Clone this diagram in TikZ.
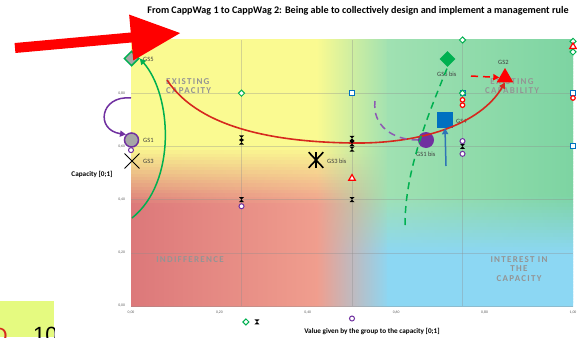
\documentclass[tikz,border=0pt]{standalone}
\usepackage{fontspec}
\setmainfont{Carlito}
\newfontfamily\bigfont{Liberation Sans}
\newfontfamily\capfont[LetterSpace=14]{Carlito}
\usetikzlibrary{shapes.geometric,shapes.misc,arrows.meta}

\definecolor{cyel}{RGB}{250,250,145}
\definecolor{cred}{RGB}{220,120,122}
\definecolor{csal}{RGB}{240,158,142}
\definecolor{cgrl}{RGB}{160,225,178}
\definecolor{cgrn}{RGB}{125,212,162}
\definecolor{cblu}{RGB}{140,215,243}
\definecolor{cgreen}{RGB}{0,176,80}
\definecolor{cpurple}{RGB}{112,48,160}
\definecolor{cblue}{RGB}{0,112,192}
\definecolor{cgrey}{RGB}{166,166,166}
\definecolor{cdred}{RGB}{214,40,30}
\definecolor{cbox}{RGB}{229,250,128}
\definecolor{cablue}{RGB}{46,117,182}

\tikzset{
  chart/.style={shift={(131,306)}, x=442pt, y=266pt},
  gridln/.style={black!45, opacity=0.35, line width=0.4pt},
  ticklbl/.style={font=\fontsize{3.8}{4}\selectfont, text=black!65, inner sep=0pt},
  gslbl/.style={font=\fontsize{6.5}{7}\selectfont, text=black!75, inner sep=0pt, anchor=west},
  zonelbl/.style={font=\capfont\bfseries\fontsize{9}{9.5}\selectfont, text=black!42, align=center, inner sep=0pt},
  axislbl/.style={font=\bfseries\fontsize{7.2}{8}\selectfont, inner sep=0pt},
  mkdia/.style={diamond, draw=cgreen, fill=white, line width=1pt, inner sep=0pt, minimum size=6.5pt},
  mksq/.style={rectangle, draw=cblue, fill=white, line width=1pt, inner sep=0pt, minimum size=5pt},
  mkcirc/.style={circle, draw=cpurple, fill=white, line width=1pt, inner sep=0pt, minimum size=5pt},
  mkred/.style={circle, draw=red, fill=white, line width=1.2pt, inner sep=0pt, minimum size=4.5pt},
  mktri/.style={regular polygon, regular polygon sides=3, draw=red, fill=white, line width=1.2pt, inner sep=0pt, minimum size=7.5pt},
  mkhour/.style={inner sep=0pt, minimum width=5pt, minimum height=5pt,
    path picture={\fill[black] (path picture bounding box.north west) -- (path picture bounding box.north east)
      -- (path picture bounding box.south west) -- (path picture bounding box.south east) -- cycle;}},
  tipa/.style={-{Triangle[length=6pt,width=6pt]}},
  dashln/.style={line width=1.5pt, dash pattern=on 7pt off 5pt},
}

\begin{document}
\begin{tikzpicture}[x=1pt,y=-1pt]
\useasboundingbox (0,0) rectangle (577,337);
\fill[white] (0,0) rectangle (577,337);

\node[font=\bfseries\fontsize{10.1}{12}\selectfont, inner sep=0pt] (title) at (358,11)
  {From CappWag 1 to CappWag 2: Being able to collectively design and implement a management rule};

% coloured zones of the chart
\begin{scope}[chart]
  \foreach \i in {0,...,79}{
    \pgfmathsetmacro{\vb}{\i/80}
    \pgfmathsetmacro{\vt}{min(1,(\i+1.4)/80)}
    \pgfmathsetmacro{\vm}{(\i+0.5)/80}
    \pgfmathsetmacro{\pl}{min(100,max(0,(\vm-0.38)/0.22*100))}
    \pgfmathsetmacro{\pr}{min(100,max(0,(\vm-0.2)/0.22*100))}
    \colorlet{sA}{cyel!\pl!cred}
    \colorlet{sB}{cyel!\pl!csal}
    \colorlet{sC}{cgrl!\pr!cblu}
    \colorlet{sD}{cgrn!\pr!cblu}
    \shade[left color=sA, right color=sB] (0,\vb) rectangle (0.425,\vt);
    \shade[left color=sB, right color=sC] (0.42,\vb) rectangle (0.585,\vt);
    \shade[left color=sC, right color=sD] (0.58,\vb) rectangle (1,\vt);
  }
  \foreach \v in {0.25,0.5,0.75} \draw[gridln] (\v,0) -- (\v,1);
  \foreach \v in {0.2,0.4,0.6,0.8} \draw[gridln] (0,\v) -- (1,\v);
  \draw[gridln] (0,0) -- (1,0);
  \foreach \v/\t [count=\n] in {0/{0,00},0.2/{0,20},0.4/{0,40},0.6/{0,60},0.8/{0,80},1/{1,00}}
    \node[ticklbl] (xt\n) at (\v,-0.025) {\t};
  \foreach \v/\t [count=\n] in {0/{0,00},0.2/{0,20},0.4/{0,40},0.6/{0,60},0.8/{0,80}}
    \node[ticklbl] (yt\n) at (-0.021,\v) {\t};
\end{scope}

% zone names
\node[zonelbl, align=left, anchor=west] (zcap) at (166,86) {EXISTING\\CAPACITY};
\node[zonelbl] (zcab) at (512,86) {EXISTING\\CAPABILITY};
\node[zonelbl] (zind) at (190,260) {INDIFFERENCE};
\node[zonelbl] (zint) at (519,269) {INTEREST IN\\THE\\CAPACITY};

% axis titles
\node[axislbl] (ytitle) at (92,174) {Capacity [0;1]};
\node[axislbl] (xtitle) at (372,331) {Value given by the group to the capacity [0;1]};

% group states
\node[diamond, draw=cgreen, fill=cgrey, line width=1.5pt, inner sep=0pt, minimum size=15pt] (GS5) at (131.5,58.5) {};
\node[gslbl] (GS5t) at (143,59) {GS5};
\node[circle, draw=cpurple, fill=cgrey, line width=1.5pt, inner sep=0pt, minimum size=14pt] (GS1) at (131.5,140) {};
\node[gslbl] (GS1t) at (143,140) {GS1};
\node[cross out, draw=black, line width=0.9pt, inner sep=0pt, minimum size=14pt] (GS3) at (132,161) {};
\node[gslbl] (GS3t) at (143,161) {GS3};
\node[cross out, draw=black, line width=1.6pt, inner sep=0pt, minimum width=13pt, minimum height=14pt] (GS3b) at (316,160) {};
\draw[line width=1.6pt] (GS3b.north) -- (GS3b.south);
\node[gslbl] (GS3bt) at (327,161) {GS3 bis};
\node[circle, fill=cpurple, inner sep=0pt, minimum size=16pt] (GS1b) at (426,140) {};
\node[gslbl] (GS1bt) at (416,154) {GS1 bis};
\node[rectangle, fill=cblue, inner sep=0pt, minimum size=16pt] (GS4) at (445,120) {};
\node[gslbl] (GS4t) at (456,121) {GS4};
\node[diamond, fill=cgreen, inner sep=0pt, minimum size=16pt] (GS5b) at (447.5,59) {};
\node[gslbl] (GS5bt) at (437,74) {GS5 bis};
\node[regular polygon, regular polygon sides=3, fill=red, inner sep=0pt, minimum size=19pt] (GS2) at (505,77.5) {};
\node[gslbl] (GS2t) at (498,62) {GS2};

% moves between states
\coordinate (g0) at (132,218);
\coordinate (p0) at (131,98);
\coordinate (r0) at (167,80);
\coordinate (rd0) at (471,76);
\coordinate (gd0) at (405,225);
\coordinate (pd0) at (375,101);
\coordinate (b0) at (446,166);
\draw[cgreen, line width=1.5pt, tipa] (g0) .. controls (177,182) and (172,95) .. (GS5.east);
\draw[cpurple, line width=1.5pt, tipa] (p0) .. controls (100,95) and (95,130) .. (GS1.north west);
\draw[cdred, line width=1.6pt, tipa] (r0) .. controls (200,130) and (280,142) .. (352,143)
  .. controls (420,144) and (480,125) .. (GS2.south);
\draw[red, dashln, tipa] (rd0) -- (GS2.west);
\draw[cgreen, dashln] (gd0) .. controls (405,170) and (428,115) .. (GS5b.south);
\draw[cpurple!80, dashln] (pd0) .. controls (372,125) and (392,140) .. (GS1b.west);
\draw[cablue, line width=1.5pt, tipa] (b0) -- (GS4.south);

% answers of the members
\begin{scope}[chart]
  \foreach \x/\y [count=\n] in {0.5/0.8,0.75/0.8,1/0.802,1/0.6}
    \node[mksq] (sq\n) at (\x,\y) {};
  \foreach \x/\y [count=\n] in {0.25/0.8,0.75/1,0.75/0.8,1/0.995,1/0.955,0.26/-0.06}
    \node[mkdia] (dia\n) at (\x,\y) {};
  \foreach \x/\y [count=\n] in {0.25/0.632,0.25/0.616,0.25/0.4,0.5/0.63,0.5/0.61,0.5/0.59,0.5/0.4,0.75/0.6,0.285/-0.06}
    \node[mkhour] (hg\n) at (\x,\y) {};
  \foreach \x/\y [count=\n] in {0.25/0.375,0.75/0.62,0.75/0.572,0.5/-0.047,0/0.586}
    \node[mkcirc] (ci\n) at (\x,\y) {};
  \foreach \x/\y [count=\n] in {0.75/0.775,0.75/0.755,1/0.782}
    \node[mkred] (rc\n) at (\x,\y) {};
  \foreach \x/\y [count=\n] in {0.5/0.48,1/0.975}
    \node[mktri] (tr\n) at (\x,\y) {};
\end{scope}

% big red arrow
\coordinate (RA1) at (15,48);
\coordinate (RA2) at (181,33);
\draw[red, line width=10pt, -{Triangle[length=50pt,width=43pt]}] (RA1) -- (RA2);

% corner of the slide
\fill[cbox] (0,301) rectangle (54,337);
\begin{scope}
  \clip (0,301) rectangle (54,337);
  \node[font=\bigfont\fontsize{22}{22}\selectfont, anchor=base west, inner sep=0pt] (pnum) at (33,342) {10};
  \node[font=\bigfont\fontsize{22}{22}\selectfont, text=cdred, anchor=base east, inner sep=0pt] (pmark) at (8,343) {O};
\end{scope}
\end{tikzpicture}
\end{document}
